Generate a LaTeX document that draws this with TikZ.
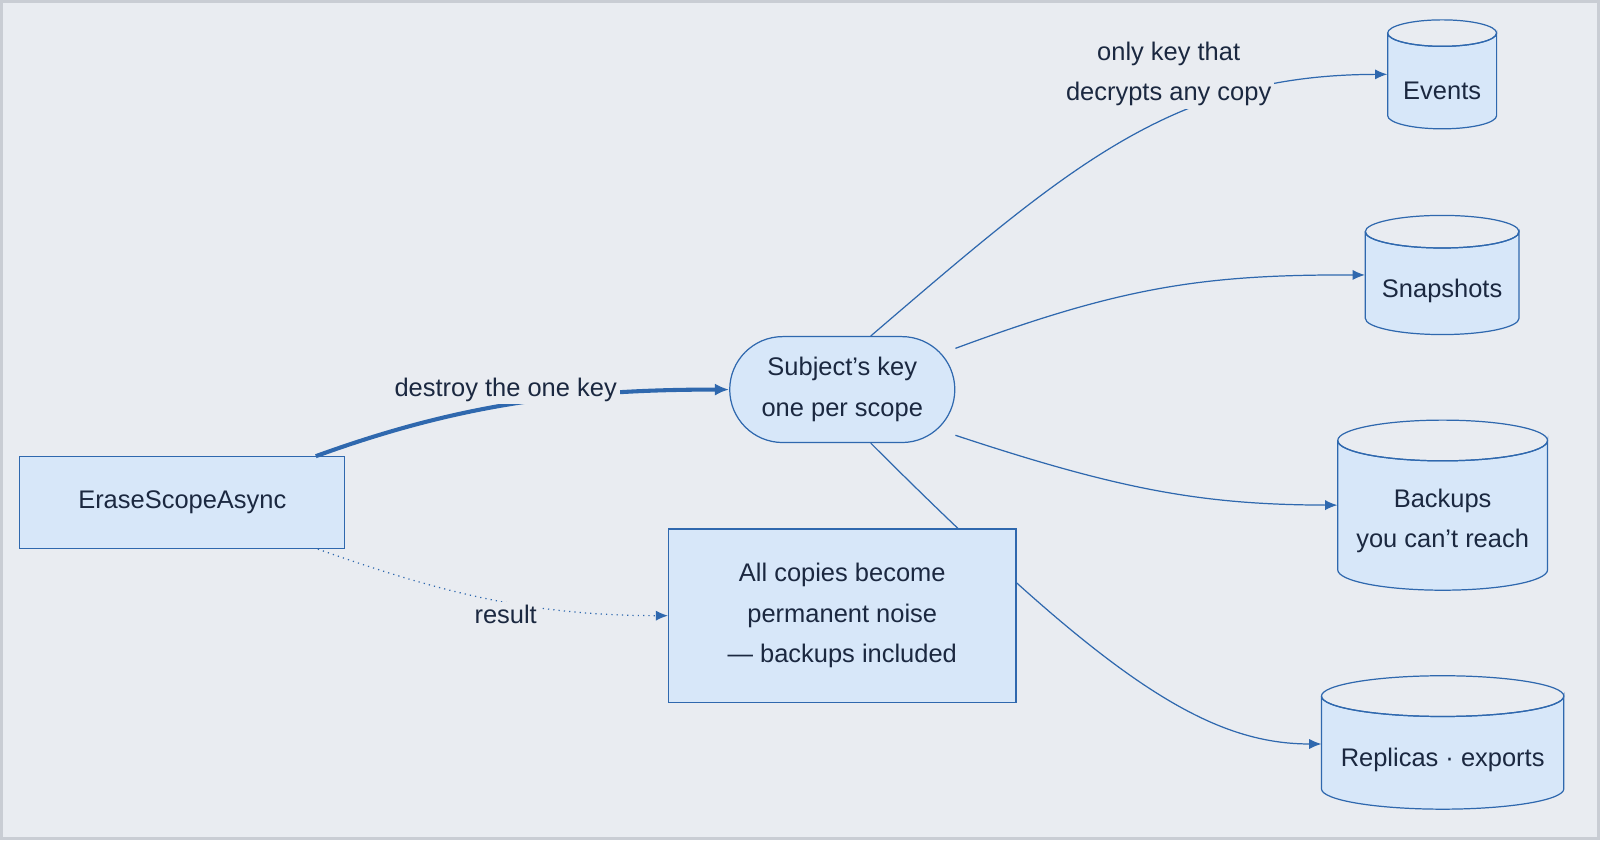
\documentclass[tikz,border=0pt]{standalone}
\usepackage{fontspec}
\setmainfont{Liberation Sans}
\usetikzlibrary{arrows.meta}
\definecolor{bg}{HTML}{E9ECF1}
\definecolor{frame}{HTML}{C9CDD4}
\definecolor{nfill}{HTML}{D7E7F9}
\definecolor{nline}{HTML}{2F68AE}
\definecolor{txt}{HTML}{1B2840}
\tikzset{
  box/.style={draw=nline,fill=nfill,line width=0.6pt,text=txt,align=center,inner sep=0pt},
  lab/.style={fill=bg,text=txt,align=center,inner sep=1.5pt},
  conn/.style={draw=nline,line width=0.6pt,-{Latex[length=6pt,width=5pt]}},
  every node/.style={font=\fontsize{12.5pt}{20pt}\selectfont},
}
\newcommand{\cyl}[8]{% name l r t b ry texty text
  \path[fill=nfill,draw=nline,line width=0.6pt] (#2,#4) -- (#2,#5) arc[start angle=180,end angle=0,x radius={(#3-#2)/2},y radius=#6] -- (#3,#4) arc[start angle=0,end angle=180,x radius={(#3-#2)/2},y radius=#6];
  \draw[nline,line width=0.6pt] ({(#2+#3)/2},#4) ellipse[x radius={(#3-#2)/2},y radius=#6];
  \node[inner sep=0pt,minimum width={(#3-#2)*0.5pt},minimum height={(#5-#4+2*#6)*0.5pt}] (#1) at ({(#2+#3)/2},{(#4+#5)/2}) {};
  \node[text=txt,align=center] (#1-t) at ({(#2+#3)/2},#7) {#8};
}
\begin{document}
\begin{tikzpicture}[x=0.5pt,y=-0.5pt]
\path[fill=bg,draw=frame,line width=1.5pt] (0,0) rectangle (1568,822);
\useasboundingbox (0,0) rectangle (1568,822);
% nodes
\node[box,minimum width=159.5pt,minimum height=45pt] (erase) at (177.5,492) {EraseScopeAsync};
\node[box,rounded corners=26pt,minimum width=110.5pt,minimum height=52pt] (subject) at (825.5,381) {Subject's key\\one per scope};
% edge behind all copies box
\draw[nline,line width=0.6pt,-{Latex[length=6pt,width=5pt]}] (subject.-62) .. controls (1080,660) and (1180,729) .. (1296,729) coordinate (repl-end);
\node[box,minimum width=170.5pt,minimum height=85pt] (allc) at (825.5,603) {All copies become\\permanent noise\\— backups included};
% cylinders
\cyl{events}{1361}{1468}{31}{112}{13}{88}{Events}
\cyl{snap}{1339}{1490}{226}{311}{16}{284}{Snapshots}
\cyl{backups}{1312}{1518}{431}{558}{20}{510}{Backups\\you can't reach}
\cyl{replicas}{1296}{1534}{682}{773}{20}{745}{Replicas · exports}
% connectors
\draw[nline,line width=2pt,-{Latex[length=7pt,width=6pt]}] ([xshift=-14.5pt]erase.north east) .. controls (450,395) and (560,381) .. (subject.west);
\node[lab] (l1) at (495,381) {destroy the one key};
\draw[nline,line width=0.6pt,dotted,-{Latex[length=6pt,width=5pt]}] ([xshift=-13.5pt]erase.south east) .. controls (430,580) and (520,603) .. (allc.west);
\node[lab] (l2) at (495,602) {result};
\draw[conn] (subject.62) .. controls (1050,160) and (1150,72) .. (events.west);
\node[lab] (l3) at (1146,71) {only key that\\decrypts any copy};
\draw[conn] (subject.20) .. controls (1100,280) and (1180,268) .. (snap.west);
\draw[conn] (subject.-22) .. controls (1100,480) and (1180,494) .. (backups.west);
\end{tikzpicture}
\end{document}
